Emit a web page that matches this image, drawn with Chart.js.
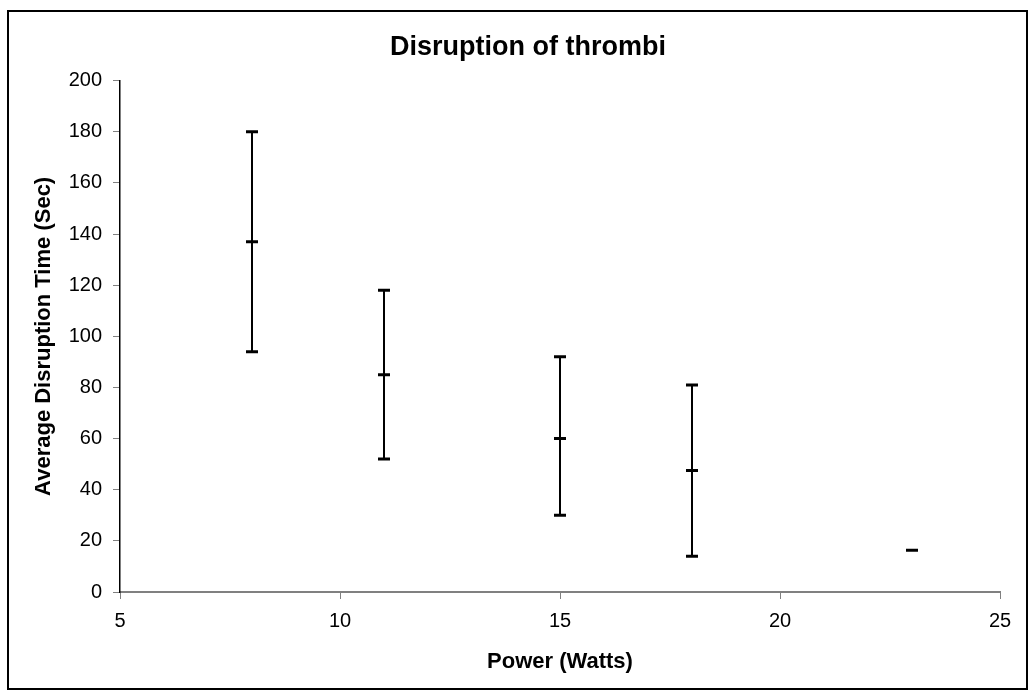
<!DOCTYPE html>
<html>
<head>
<meta charset="utf-8">
<script src="https://cdn.jsdelivr.net/npm/chart.js@4"></script>
<style>
  body { margin: 0; background: #fff; }
  #wrap { position: relative; width: 1035px; height: 697px; }
  #frame { position: absolute; left: 7px; top: 10px; width: 1021px; height: 680px; border: 2px solid #000; box-sizing: border-box; }
  #myChart { position: absolute; left: 0; top: 0; }
</style>
</head>
<body>
<div id="wrap">
  <div id="frame"></div>
  <canvas id="myChart" width="1035" height="697"></canvas>
</div>
<script>
// data
const power = [8, 11, 15, 18, 23]
const avgTime = [137, 85, 60, 47.5, 16.3]
const errLow = [94, 52, 30, 14, null]
const errHigh = [180, 118, 92, 81, null]

const xTicks = [5, 10, 15, 20, 25]
const yTicks = [0, 20, 40, 60, 80, 100, 120, 140, 160, 180, 200]

const fontFamily = 'Arial, "Liberation Sans", sans-serif'

//mean markers
let datasets = [{
    label: 'Average',
    data: power.map((p, i) => ({x: p, y: avgTime[i]})),
    showLine: false,
    pointStyle: 'line',
    pointRadius: 6,
    pointBorderWidth: 3,
    borderColor: '#000',
    backgroundColor: '#000'
}]

//error bars, one small line dataset each
for (let i = 0; i < power.length; i++) {
    if (errLow[i] == null) continue
    datasets.push({
        type: 'line',
        label: 'err' + i,
        data: [{x: power[i], y: errLow[i]}, {x: power[i], y: errHigh[i]}],
        showLine: true,
        borderColor: '#000',
        borderWidth: 2,
        pointStyle: 'line',
        pointRadius: 6,
        pointBorderWidth: 3,
        pointBorderColor: '#000'
    })
}

var ctx = document.getElementById('myChart').getContext('2d');
var mychart = new Chart(ctx, {
    type: 'scatter',
    data: { datasets: datasets },
    options: {
        responsive: false,
        animation: false,
        // left padding pushes the title centre over to the right like the original
        layout: { padding: { left: 56, right: 35, top: 0, bottom: 0 } },
        plugins: {
            legend: { display: false },
            tooltip: { enabled: false },
            title: {
                display: true,
                text: 'Disruption of thrombi',
                color: '#000',
                font: { family: fontFamily, size: 27, weight: 'bold', lineHeight: 1.2 },
                padding: { top: 31.8, bottom: 16.5 }
            }
        },
        scales: {
            x: {
                type: 'linear',
                min: 5,
                max: 25,
                afterFit: function (scale) { scale.height = 105 },
                afterBuildTicks: function (scale) { scale.ticks = xTicks.map(v => ({value: v})) },
                grid: { drawOnChartArea: false, drawTicks: true, tickLength: 7, color: '#808080' },
                border: { color: '#808080', width: 2 },
                ticks: { color: '#000', padding: 10, font: { family: fontFamily, size: 20 } },
                title: {
                    display: true,
                    text: 'Power (Watts)',
                    color: '#000',
                    font: { family: fontFamily, size: 22, weight: 'bold', lineHeight: 1.2 },
                    padding: { top: 0, bottom: 21.8 }
                }
            },
            y: {
                type: 'linear',
                min: 0,
                max: 200,
                afterFit: function (scale) { scale.width = 64 },
                afterBuildTicks: function (scale) { scale.ticks = yTicks.map(v => ({value: v})) },
                grid: { drawOnChartArea: false, drawTicks: true, tickLength: 7, color: '#808080' },
                border: { color: '#000', width: 1.5 },
                ticks: { color: '#000', padding: 11, font: { family: fontFamily, size: 20 } },
                title: {
                    display: true,
                    text: 'Average Disruption Time (Sec)',
                    color: '#000',
                    font: { family: fontFamily, size: 22, weight: 'bold', lineHeight: 1.2 },
                    // negative so the title sits left of the padded area, at x ~44
                    padding: { top: -25.2, bottom: 0 }
                }
            }
        }
    }
});
</script>
</body>
</html>
